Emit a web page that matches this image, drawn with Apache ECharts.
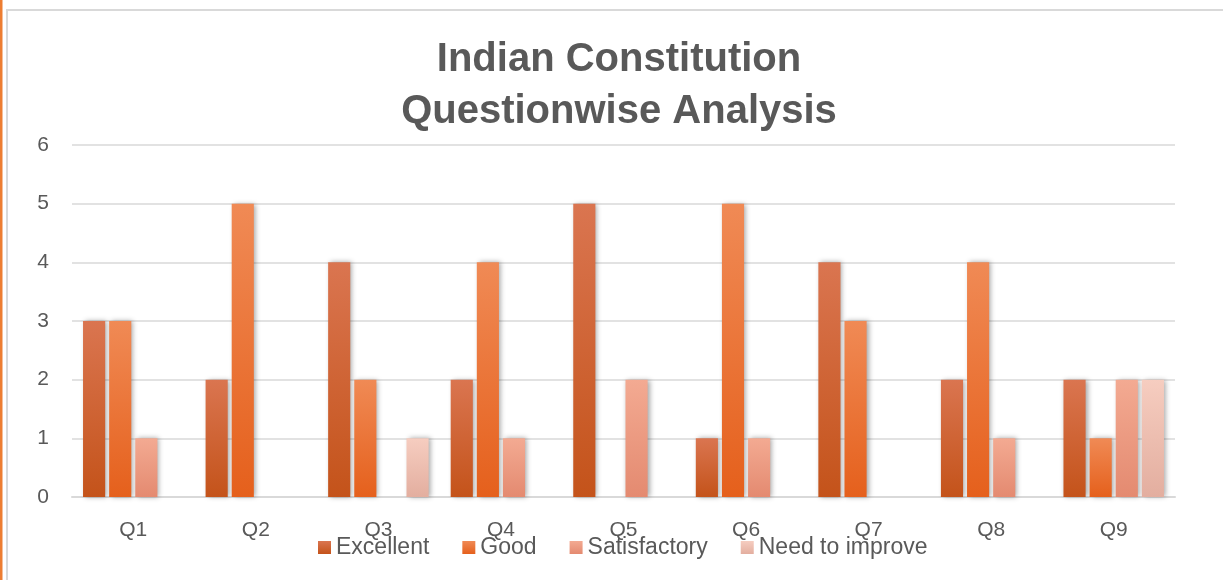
<!DOCTYPE html>
<html><head><meta charset="utf-8">
<script src="https://cdn.jsdelivr.net/npm/echarts@6/dist/echarts.min.js"></script>
<style>html,body{margin:0;padding:0;background:#fff}#c{width:1223px;height:580px}</style>
</head><body><div id="c"></div>
<script>
const categories = ['Q1','Q2','Q3','Q4','Q5','Q6','Q7','Q8','Q9'];
const excellent = [3,2,4,2,5,1,4,2,2];
const good = [3,5,2,4,0,5,3,4,1];
const satisfactory = [1,0,0,1,2,1,0,1,2];
const needToImprove = [0,0,1,0,0,0,0,0,2];
const seriesNames = ['Excellent','Good','Satisfactory','Need to improve'];
const yTicks = [0,1,2,3,4,5,6];

const grads = [
  ['#DA7550','#C4531A'],
  ['#F08A55','#E5601C'],
  ['#F3AA92','#E48A70'],
  ['#F6CDC0','#E3AE9F']
];
function grad(i){
  return new echarts.graphic.LinearGradient(0,0,0,1,[{offset:0,color:grads[i][0]},{offset:1,color:grads[i][1]}]);
}
const font = 'Liberation Sans, Arial, sans-serif';
const data = [excellent, good, satisfactory, needToImprove];
const chart = echarts.init(document.getElementById('c'));
chart.setOption({
  animation:false,
  backgroundColor:'#fff',
  graphic:[
    {type:'rect',shape:{x:7,y:10,width:1300,height:700},style:{fill:'none',stroke:'#d9d9d9',lineWidth:2},silent:true,z:-10},
    {type:'rect',shape:{x:0,y:0,width:2.5,height:580},style:{fill:'#ED7D31'},silent:true,z:-10}
  ],
  title:{
    text:'Indian Constitution\nQuestionwise Analysis',
    left:614, top:29, textAlign:'center',
    textStyle:{fontFamily:font,fontSize:40,fontWeight:'bold',color:'#595959',lineHeight:52}
  },
  legend:{
    data:seriesNames, top:531, left:313,
    itemWidth:13,itemHeight:13,itemGap:33,
    icon:'rect',
    textStyle:{fontFamily:font,fontSize:23,color:'#595959'}
  },
  grid:{left:72,right:48,top:145,bottom:83},
  xAxis:{
    type:'category',data:categories,
    axisLine:{lineStyle:{color:'#d9d9d9',width:2}},
    axisTick:{show:false},
    axisLabel:{fontFamily:font,fontSize:21,color:'#595959',margin:23}
  },
  yAxis:{
    type:'value',min:0,max:6,interval:1,
    axisLine:{show:false},axisTick:{show:false},
    axisLabel:{fontFamily:font,fontSize:21,color:'#595959',margin:23,formatter:v=>yTicks.includes(v)?String(v):''},
    splitLine:{lineStyle:{color:'#d9d9d9',width:1.5}}
  },
  series: seriesNames.map((n,i)=>({
    name:n,type:'bar',data:data[i],
    barGap:'18%',barCategoryGap:'18%',
    itemStyle:{color:grad(i),shadowColor:'rgba(0,0,0,0.35)',shadowBlur:5,shadowOffsetX:2,shadowOffsetY:0}
  }))
});
</script></body></html>
